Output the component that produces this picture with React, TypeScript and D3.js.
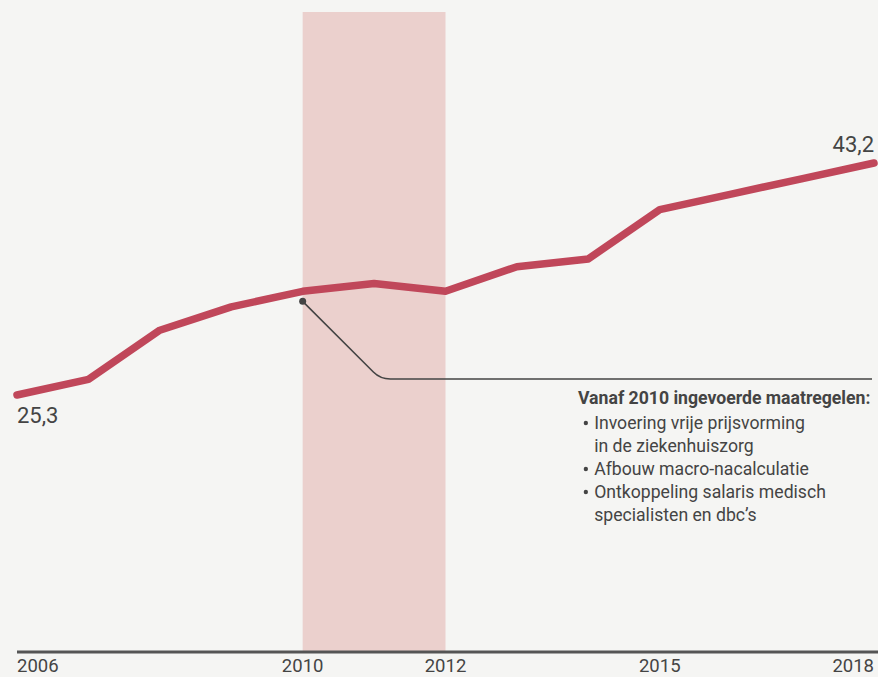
import React from 'react';
import * as d3 from 'd3';

const years = [2006, 2007, 2008, 2009, 2010, 2011, 2012, 2013, 2014, 2015, 2016, 2017, 2018];
const values = [25.3, 26.5, 30.3, 32.1, 33.3, 33.9, 33.3, 35.2, 35.8, 39.6, 40.8, 42.0, 43.2];
const tickYears = [2006, 2010, 2012, 2015, 2018];
const band = [2010, 2012];
const noteTitle = 'Vanaf 2010 ingevoerde maatregelen:';
const noteLines = [
    {bullet: true, text: 'Invoering vrije prijsvorming'},
    {bullet: false, text: 'in de ziekenhuiszorg'},
    {bullet: true, text: 'Afbouw macro-nacalculatie'},
    {bullet: true, text: 'Ontkoppeling salaris medisch'},
    {bullet: false, text: 'specialisten en dbc\u2019s'},
];

const W = 878;
const H = 677;
const font = 'Roboto, "Noto Sans", sans-serif';

const App = () => {
    const x = d3.scaleLinear().domain([2006, 2018]).range([17, 874]);
    const y = d3.scaleLinear().domain([25.3, 43.2]).range([395, 163]);
    const axisY = 652;

    const line = d3.line<number>()
        .x((d, i) => x(years[i]))
        .y(d => y(d));

    const fmt = (v: number) => v.toFixed(1).replace('.', ',');

    // annotation leader from the 2010 point
    const dotX = x(2010);
    const dotY = y(values[4]) + 10;
    const elbowY = 379;
    const leader = d3.path();
    leader.moveTo(dotX, dotY);
    leader.lineTo(dotX + (elbowY - dotY) - 7, elbowY - 7);
    leader.quadraticCurveTo(dotX + (elbowY - dotY), elbowY, dotX + (elbowY - dotY) + 10, elbowY);
    leader.lineTo(872, elbowY);

    return (
        <svg width={W} height={H} style={{position: 'absolute', left: 0, top: 0, background: '#f5f5f3'}}>
            <rect x={0} y={0} width={W} height={H} fill="#f5f5f3"/>
            <rect x={x(band[0])} y={12} width={x(band[1]) - x(band[0])} height={axisY - 12} fill="#ebd0cd"/>
            <line x1={17} x2={W} y1={axisY} y2={axisY} stroke="#555" strokeWidth={3}/>
            {tickYears.map((t, i) => (
                <text key={t} x={x(t)} y={672}
                      textAnchor={i === 0 ? 'start' : i === tickYears.length - 1 ? 'end' : 'middle'}
                      fontFamily={font} fontSize={18.5} fill="#444">{t}</text>
            ))}
            <path d={line(values) || ''} fill="none" stroke="#c0475a" strokeWidth={7.5}
                  strokeLinecap="round" strokeLinejoin="round"/>
            <text x={x(2006)} y={423} fontFamily={font} fontSize={22} fill="#444">{fmt(values[0])}</text>
            <text x={x(2018)} y={152} textAnchor="end" fontFamily={font} fontSize={22} fill="#444">
                {fmt(values[values.length - 1])}
            </text>
            <path d={leader.toString()} fill="none" stroke="#444" strokeWidth={1.6}/>
            <circle cx={dotX} cy={dotY} r={3.5} fill="#444"/>
            <g transform="translate(578,0) scale(0.98,1)" fontFamily={font} fontSize={18} fill="#444">
                <text x={0} y={404} fontWeight="bold">{noteTitle}</text>
                {noteLines.map((l, i) => (
                    <g key={i}>
                        {l.bullet && <circle cx={8} cy={423 + i * 23} r={2.2} fill="#444"/>}
                        <text x={16.5} y={429 + i * 23}>{l.text}</text>
                    </g>
                ))}
            </g>
        </svg>
    );
};

export default App;
